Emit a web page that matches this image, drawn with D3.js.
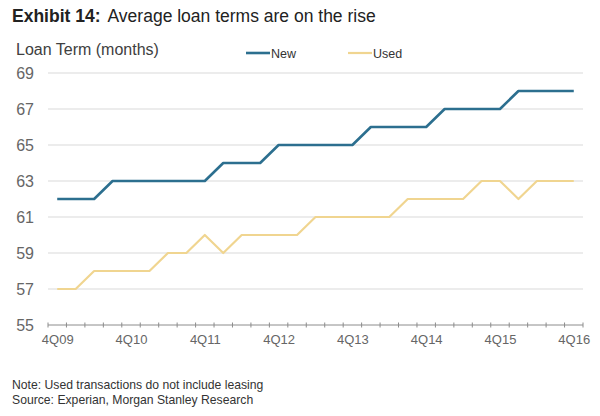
<!DOCTYPE html>
<html>
<head>
<meta charset="utf-8">
<script src="https://cdn.jsdelivr.net/npm/d3@7"></script>
<style>
  html, body { margin: 0; padding: 0; background: #fff; }
  svg { display: block; font-family: "Liberation Sans", Arial, sans-serif; }
</style>
</head>
<body>
<svg id="chart" width="600" height="416"></svg>
<script>
const quarters = ["4Q09","1Q10","2Q10","3Q10","4Q10","1Q11","2Q11","3Q11","4Q11",
  "1Q12","2Q12","3Q12","4Q12","1Q13","2Q13","3Q13","4Q13","1Q14","2Q14","3Q14","4Q14",
  "1Q15","2Q15","3Q15","4Q15","1Q16","2Q16","3Q16","4Q16"];
const newTerms  = [62,62,62,63,63,63,63,63,63,64,64,64,65,65,65,65,65,66,66,66,66,67,67,67,67,68,68,68,68];
const usedTerms = [57,57,58,58,58,58,59,59,60,59,60,60,60,60,61,61,61,61,61,62,62,62,62,63,63,62,63,63,63];
const xLabels = ["4Q09","4Q10","4Q11","4Q12","4Q13","4Q14","4Q15","4Q16"];
const yTicks = [55,57,59,61,63,65,67,69];
const seriesNames = ["New","Used"];

const svg = d3.select("#chart");
const plotLeft = 48, plotRight = 583, plotTop = 73, plotBottom = 325;

const x = d3.scaleBand().domain(quarters).range([plotLeft, plotRight]).paddingInner(0).paddingOuter(0);
const xc = d => x(d) + x.bandwidth() / 2;
const y = d3.scaleLinear().domain([55, 69]).range([plotBottom, plotTop]);

// Title
const title = svg.append("text").attr("x", 12).attr("y", 22)
  .attr("font-size", 17.5).attr("fill", "#222");
title.append("tspan").attr("font-weight", "bold").text("Exhibit 14:");
title.append("tspan").attr("dx", 7).text("Average loan terms are on the rise");

// Y axis title
svg.append("text").attr("x", 16).attr("y", 55).attr("font-size", 16)
  .attr("fill", "#404040").text("Loan Term (months)");

// Gridlines
svg.append("g").selectAll("line").data(yTicks.filter(t => t !== 55)).join("line")
  .attr("x1", plotLeft).attr("x2", plotRight)
  .attr("y1", d => y(d)).attr("y2", d => y(d))
  .attr("stroke", "#d9d9d9").attr("stroke-width", 1);

// Y axis labels
const yAxis = svg.append("g").attr("transform", `translate(${plotLeft},0)`)
  .call(d3.axisLeft(y).tickValues(yTicks).tickSize(0).tickPadding(14).tickFormat(d3.format("d")));
yAxis.select(".domain").remove();
yAxis.selectAll("text").attr("font-size", 16).attr("fill", "#666")
  .attr("font-family", "'Liberation Sans', Arial, sans-serif");

// X axis line and ticks (between categories)
svg.append("line").attr("x1", plotLeft).attr("x2", plotRight)
  .attr("y1", plotBottom).attr("y2", plotBottom).attr("stroke", "#8c8c8c").attr("stroke-width", 1);
const tickPos = quarters.map(q => x(q)).concat([x.range()[1]]);
svg.append("g").selectAll("line").data(tickPos).join("line")
  .attr("x1", d => d).attr("x2", d => d)
  .attr("y1", plotBottom - 2.5).attr("y2", plotBottom + 2.5)
  .attr("stroke", "#8c8c8c").attr("stroke-width", 1);

// X labels
const xp = d3.scalePoint().domain(quarters).range([xc(quarters[0]), xc(quarters[quarters.length-1])]);
const xAxis = svg.append("g").attr("transform", `translate(0,${plotBottom})`)
  .call(d3.axisBottom(xp).tickValues(xLabels).tickSize(0).tickPadding(10));
xAxis.select(".domain").remove();
xAxis.selectAll("text").attr("font-size", 13).attr("fill", "#666")
  .attr("font-family", "'Liberation Sans', Arial, sans-serif");

// Lines
const line = d3.line().x((d, i) => xc(quarters[i])).y(d => y(d));
svg.append("path").datum(usedTerms).attr("d", line)
  .attr("fill", "none").attr("stroke", "#f0d590").attr("stroke-width", 2.2).attr("stroke-linejoin", "round");
svg.append("path").datum(newTerms).attr("d", line)
  .attr("fill", "none").attr("stroke", "#2c6f8f").attr("stroke-width", 2.6).attr("stroke-linejoin", "round");

// Legend
const legend = [{name: seriesNames[0], color: "#2c6f8f", w: 2.6, x1: 246, x2: 270},
                {name: seriesNames[1], color: "#f0d590", w: 2.2, x1: 348, x2: 372}];
const lg = svg.append("g");
legend.forEach(l => {
  lg.append("line").attr("x1", l.x1).attr("x2", l.x2).attr("y1", 53).attr("y2", 53)
    .attr("stroke", l.color).attr("stroke-width", l.w);
  lg.append("text").attr("x", l.x2 + 1).attr("y", 57.5).attr("font-size", 12.5)
    .attr("fill", "#333").text(l.name);
});

// Footnotes
svg.append("text").attr("x", 12).attr("y", 389).attr("font-size", 12.2)
  .attr("fill", "#333").text("Note: Used transactions do not include leasing");
svg.append("text").attr("x", 12).attr("y", 404).attr("font-size", 12.2)
  .attr("fill", "#333").text("Source: Experian, Morgan Stanley Research");
</script>
</body>
</html>
